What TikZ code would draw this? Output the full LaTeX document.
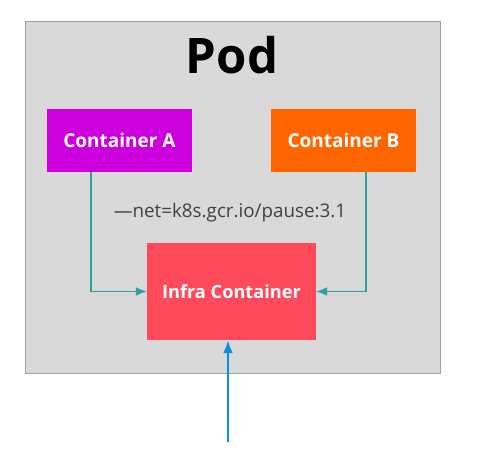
\documentclass[tikz,border=0pt]{standalone}
\usepackage{fontspec}
\setmainfont{Open Sans}
\usetikzlibrary{arrows.meta}
\definecolor{podgray}{HTML}{D9D9D9}
\definecolor{podedge}{HTML}{A0A0A0}
\definecolor{cpurple}{HTML}{CC00DD}
\definecolor{corange}{HTML}{FF6600}
\definecolor{infrared}{HTML}{FF4A5C}
\definecolor{teal}{HTML}{2AA19B}
\definecolor{netblue}{HTML}{0A8FE6}
\definecolor{labelgray}{HTML}{404040}
\tikzset{
  box/.style={rectangle,inner sep=0pt,text=white,font=\fontsize{19}{22}\selectfont\bfseries},
  link/.style={draw=teal,line width=1.6pt,-{Latex[length=11pt,width=9pt]}},
  uplink/.style={draw=netblue,line width=2.2pt,-{Latex[length=13pt,width=10pt]}}
}

\begin{document}
\begin{tikzpicture}[x=1pt,y=-1pt]
    \useasboundingbox (0,0) rectangle (503,462);
    \node (pod) at (232.5,197) [rectangle,fill=podgray,draw=podedge,line width=0.8pt,
      minimum width=415pt,minimum height=352pt]{};
    \node (title) at (232,55) [font=\fontsize{49}{55}\selectfont\bfseries]{Pod};
    \node (ca) at (119.5,140.5) [box,fill=cpurple,minimum width=145pt,minimum height=63pt]{Container A};
    \node (cb) at (343.5,140.5) [box,fill=corange,minimum width=145pt,minimum height=63pt]{Container B};
    \node (infra) at (231.5,291.5) [box,fill=infrared,minimum width=169pt,minimum height=97pt,
      font=\fontsize{18.2}{22}\selectfont\bfseries]{Infra Container};
    \node (net) at (230,213) [text=labelgray,font=\fontsize{18.8}{22}\selectfont]{---net=k8s.gcr.io/pause:3.1};
    \coordinate (src) at (228,442);
    \draw[link] ([xshift=-28.5pt]ca.south) |- (infra.west);
    \draw[link] ([xshift=22.5pt]cb.south) |- (infra.east);
    \draw[uplink] (src) -- (src |- infra.south);
  \end{tikzpicture}
\end{document}
